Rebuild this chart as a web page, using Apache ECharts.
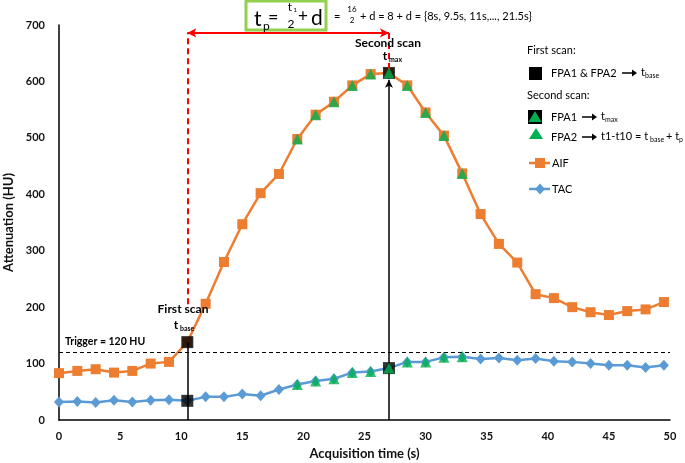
<!DOCTYPE html>
<html><head><meta charset="utf-8">
<script src="https://cdn.jsdelivr.net/npm/echarts@6/dist/echarts.min.js"></script>
<style>html,body{margin:0;padding:0;background:#fff}#c{width:685px;height:463px}</style>
</head><body><div id="c"></div>
<script>
// ---- data ----
const times = [0,1.5,3,4.5,6,7.5,9,10.5,12,13.5,15,16.5,18,19.5,21,22.5,24,25.5,27,28.5,30,31.5,33,34.5,36,37.5,39,40.5,42,43.5,45,46.5,48,49.5];
const aifValues = [83,87,90,84,87,100,103,138,206,280,347,402,436,498,541,564,593,613,615,593,545,504,437,365,312,279,223,216,200,191,186,193,196,209];
const tacValues = [32,33,31,35,32,35,36,34,41,41,46,43,54,63,69,73,84,86,92,103,103,111,112,108,110,106,109,104,103,100,97,97,93,97];
const firstScanTime = 10.5;
const secondScanTime = 27;
const fpa2Times = [19.5,21,22.5,24,25.5,28.5,30,31.5,33];
const triggerLevel = 120;
const yTicks = [0,100,200,300,400,500,600,700];
const xTicks = [0,5,10,15,20,25,30,35,40,45,50];
const arrowLevel = 686;      // red tp arrow height (HU)
const redDashLowFirst = 205; // bottom of red dashed line at first scan
const redDashLowSecond = 622;
const secondScanArrowTop = 603;

// ---- helpers ----
const FONT = 'Lato, "Open Sans", sans-serif';
const valAt = (arr, t) => arr[times.indexOf(t)];
const ORANGE = '#ED7D31', BLUE = '#5B9BD5', GREEN = '#00B050', RED = '#FF0000';

const aifData = times.map((t, i) => [t, aifValues[i]]);
const tacData = times.map((t, i) => [t, tacValues[i]]);
const blackData = [firstScanTime, secondScanTime].flatMap(t => [[t, valAt(aifValues, t)], [t, valAt(tacValues, t)]]);
const greenData = fpa2Times.concat([secondScanTime]).flatMap(t => [[t, valAt(aifValues, t)], [t, valAt(tacValues, t)]]);

const G = [];
function txt(x, y, s, size, bold, align, extra) {
  G.push(Object.assign({type:'text', x, y, z: 100, style: {text: s, fill: '#000', font: (bold ? 'bold ' : '') + size + 'px ' + FONT,
    textAlign: align || 'left', textVerticalAlign: 'middle'}}, extra || {}));
}
function arrowG(x1, x2, y) {
  G.push({type:'line', z:100, shape:{x1, y1:y, x2:x2-4, y2:y}, style:{stroke:'#000', lineWidth:1.5}});
  G.push({type:'polygon', z:100, shape:{points:[[x2-5,y-3.5],[x2,y],[x2-5,y+3.5]]}, style:{fill:'#000'}});
}

// formula box
G.push({type:'rect', z:100, shape:{x:246, y:1, width:80, height:29}, style:{fill:'#fff', stroke:'#92D050', lineWidth:3}});
txt(254, 19, 't', 21, false);
txt(263, 26, 'p', 12, false);
txt(268, 17, '=', 18, false);
txt(290, 7, 't', 12, false, 'center');
txt(293.5, 10, '1', 6, false);
txt(291, 24, '2', 12, false, 'center');
txt(298, 17, '+', 17, false);
txt(311, 18, 'd', 21, false);
txt(334, 16, '=', 11, false);
txt(352, 9, '16', 8, false, 'center');
txt(352, 20, '2', 8, false, 'center');
txt(360, 16, '+ d = 8 + d = {8s, 9.5s, 11s,..., 21.5s}', 11, false);

// annotations
txt(388, 43, 'Second scan', 12, true, 'center');
txt(385, 56, 't', 12, true, 'center');
txt(389, 60, 'max', 7, true);
txt(183, 309, 'First scan', 12, true, 'center');
txt(176, 325, 't', 12, true, 'center');
txt(180, 329, 'base', 7, true);
txt(65, 342, 'Trigger = 120 HU', 10.5, true);

// legend
const LF = 11;
txt(527, 50, 'First scan:', LF, false);
G.push({type:'rect', z:100, shape:{x:529, y:67, width:13, height:13}, style:{fill:'#000'}});
txt(551, 73, 'FPA1 & FPA2', LF, false);
arrowG(622, 637, 73);
txt(641, 72, 't', LF, false);
txt(645, 76, 'base', 7, false);
txt(527, 95, 'Second scan:', LF, false);
G.push({type:'rect', z:100, shape:{x:528, y:110, width:14, height:14}, style:{fill:'#000'}});
G.push({type:'polygon', z:101, shape:{points:[[535,111],[541.5,122],[528.5,122]]}, style:{fill:GREEN}});
txt(551, 117, 'FPA1', LF, false);
arrowG(582, 597, 117);
txt(601, 116, 't', LF, false);
txt(605, 120, 'max', 7, false);
G.push({type:'polygon', z:101, shape:{points:[[536,128],[543,139],[529,139]]}, style:{fill:GREEN}});
txt(551, 137, 'FPA2', LF, false);
arrowG(582, 597, 137);
txt(601, 136, 't1-t10 = t', LF, false);
txt(650, 140, 'base', 7, false);
txt(666, 136, '+ t', LF, false);
txt(679, 140, 'p', 7, false);
G.push({type:'line', z:100, shape:{x1:529, y1:163, x2:550, y2:163}, style:{stroke:ORANGE, lineWidth:2.5}});
G.push({type:'rect', z:101, shape:{x:535, y:158, width:10, height:10}, style:{fill:ORANGE}});
txt(552, 163, 'AIF', LF, false);
G.push({type:'line', z:100, shape:{x1:529, y1:189, x2:550, y2:189}, style:{stroke:BLUE, lineWidth:2.5}});
G.push({type:'polygon', z:101, shape:{points:[[540,183.5],[545,189],[540,194.5],[535,189]]}, style:{fill:BLUE}});
txt(552, 189, 'TAC', LF, false);

const blackLine = {color:'#000', width:1.5, type:'solid'};
const redDash = {color:RED, width:2, type:[6,4]};
const markLines = [
  [{coord:[xTicks[0], triggerLevel], symbol:'none', lineStyle:{color:'#000', width:1.2, type:[4,3]}}, {coord:[xTicks[xTicks.length-1], triggerLevel], symbol:'none'}],
  [{coord:[firstScanTime, 0], symbol:'none', lineStyle:blackLine}, {coord:[firstScanTime, valAt(aifValues, firstScanTime)], symbol:'none'}],
  [{coord:[secondScanTime, 0], symbol:'none', lineStyle:blackLine}, {coord:[secondScanTime, secondScanArrowTop], symbol:'arrow', symbolSize:[6,8]}],
  [{coord:[firstScanTime, redDashLowFirst], symbol:'none', lineStyle:redDash}, {coord:[firstScanTime, arrowLevel], symbol:'none'}],
  [{coord:[secondScanTime, redDashLowSecond], symbol:'none', lineStyle:redDash}, {coord:[secondScanTime, arrowLevel], symbol:'none'}],
  [{coord:[firstScanTime, arrowLevel], symbol:'arrow', symbolSize:[7,9], lineStyle:{color:RED, width:2, type:'solid'}}, {coord:[secondScanTime, arrowLevel], symbol:'arrow', symbolSize:[7,9]}]
];

const axisLabelStyle = {color:'#111', fontFamily:FONT, fontWeight:'bold', fontSize:11};
const chart = echarts.init(document.getElementById('c'), null, {renderer:'canvas'});
chart.setOption({
  animation:false,
  textStyle:{fontFamily:FONT},
  grid:{left:59, right:15, top:25, bottom:43, containLabel:false, outerBoundsMode:'none'},
  xAxis:{type:'value', min:xTicks[0], max:xTicks[xTicks.length-1], interval:5,
    name:'Acquisition time (s)', nameLocation:'middle', nameGap:27,
    nameTextStyle:{color:'#111', fontFamily:FONT, fontWeight:'bold', fontSize:13},
    axisLine:{lineStyle:{color:'#000', width:1.5}}, axisTick:{show:false}, splitLine:{show:false},
    axisLabel:Object.assign({margin:11}, axisLabelStyle)},
  yAxis:{type:'value', min:yTicks[0], max:yTicks[yTicks.length-1], interval:100,
    name:'Attenuation (HU)', nameLocation:'middle', nameGap:37,
    nameTextStyle:{color:'#111', fontFamily:FONT, fontWeight:'bold', fontSize:13},
    axisLine:{show:true, lineStyle:{color:'#000', width:1.5}}, axisTick:{show:false}, splitLine:{show:false},
    axisLabel:Object.assign({margin:14}, axisLabelStyle)},
  series:[
    {name:'AIF', type:'line', data:aifData, symbol:'rect', symbolSize:10, color:ORANGE,
     lineStyle:{color:ORANGE, width:2.5}, itemStyle:{color:ORANGE}, z:2,
     markLine:{silent:true, animation:false, label:{show:false}, symbol:'none', data:markLines}},
    {name:'TAC', type:'line', data:tacData, symbol:'diamond', symbolSize:[10,11], color:BLUE,
     lineStyle:{color:BLUE, width:2.5}, itemStyle:{color:BLUE}, z:2},
    {name:'FPA scans', type:'scatter', data:blackData, symbol:'rect', symbolSize:12, itemStyle:{color:'#000'}, z:4},
    {name:'FPA2', type:'scatter', data:greenData, symbol:'triangle', symbolSize:11, itemStyle:{color:GREEN}, z:5}
  ],
  graphic:G
});
</script></body></html>
